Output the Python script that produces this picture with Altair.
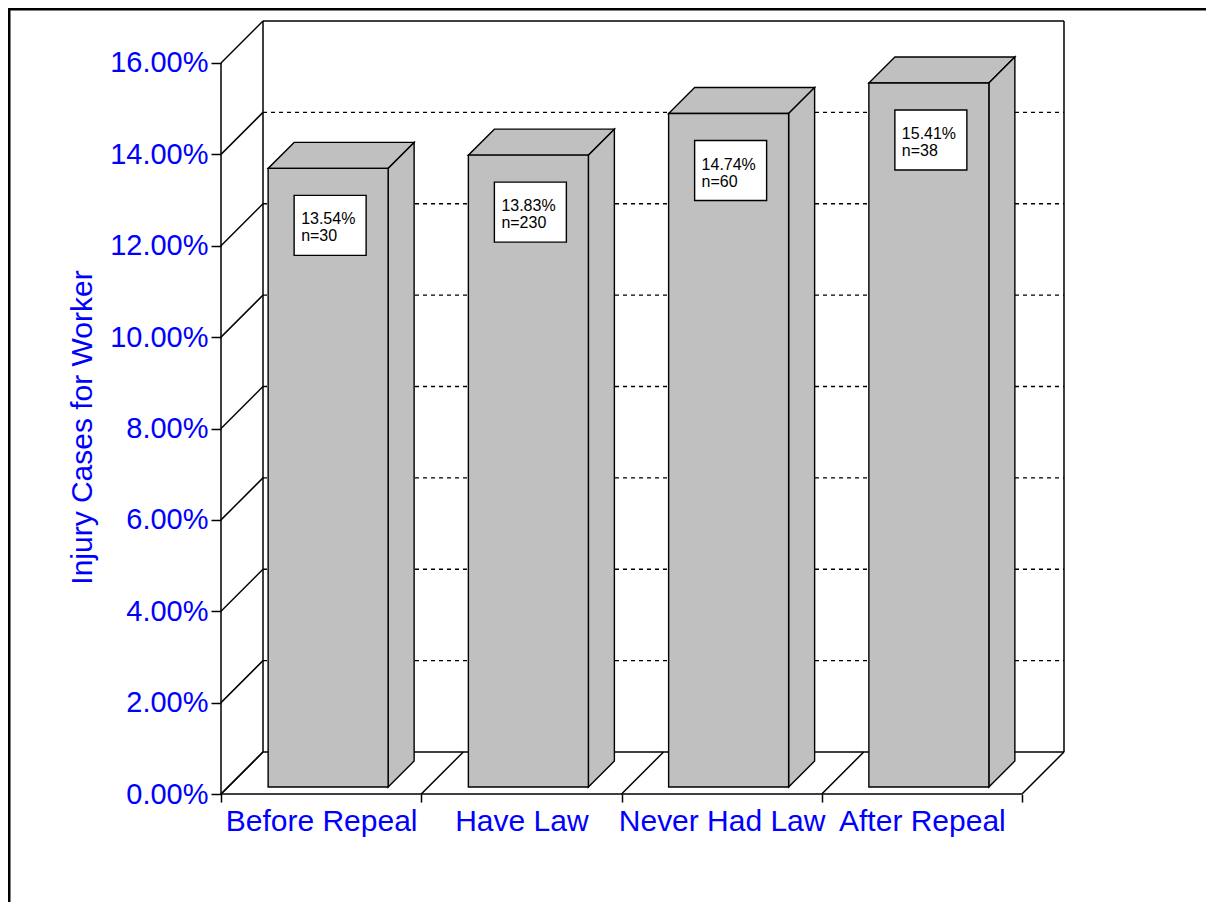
import json
import altair as alt
import pandas as pd

# ---------------- data ----------------
categories = ["Before Repeal", "Have Law", "Never Had Law", "After Repeal"]
values = [13.54, 13.83, 14.74, 15.41]          # percent
counts = [30, 230, 60, 38]
tick_values = [0, 2, 4, 6, 8, 10, 12, 14, 16]

# ---------------- geometry (pixels, style only) ----------------
N = len(categories)
YMAX = tick_values[-1]
PX_X = 200.25      # pixels per category band
PX_Y = 45.69       # pixels per percent
DEPTH = 42         # depth of the 3-D box
BAR_W = 120
BAR_Z0 = 7         # depth of bar front face
BAR_D = 26         # bar depth
BOX_DX, BOX_DY, BOX_W, BOX_H = 26, 27, 72, 60

FONT = "Liberation Sans"
BLUE = "#0000ff"
GRAY = "#c0c0c0"


def dx(p):
    return p / PX_X


def dy(p):
    return p / PX_Y


W = N * PX_X + DEPTH
H = YMAX * PX_Y + DEPTH
xs = alt.Scale(domain=[0, W / PX_X], nice=False, zero=False)
ys = alt.Scale(domain=[0, H / PX_Y], nice=False, zero=False)

label_arr = json.dumps(categories).replace('"', "'")
X_AX = alt.Axis(
    values=[i * 0.5 for i in range(2 * N + 1)],
    labelExpr=f"datum.value % 1 === 0 ? '' : {label_arr}[floor(datum.value)]",
    domain=False, grid=False, ticks=True, tickSize=8, tickColor="black",
    tickWidth=1.5,
    tickOpacity={"condition": {"test": "datum.value % 1 === 0", "value": 1}, "value": 0},
    labelColor=BLUE, labelFont=FONT, labelFontSize=30, labelPadding=4,
    labelOverlap=False, labelFlush=False, labelBound=False, labelLimit=0,
    title=None,
)
Y_AX = alt.Axis(
    values=tick_values,
    labelExpr="format(datum.value, '.2f') + '%'",
    domain=False, grid=False, ticks=True, tickSize=10, tickColor="black",
    tickWidth=1.5,
    labelColor=BLUE, labelFont=FONT, labelFontSize=29, labelPadding=3,
    labelOverlap=False, labelBound=False, labelLimit=0,
    title="Injury Cases for Worker", titleColor=BLUE, titleFont=FONT,
    titleFontSize=30, titleFontWeight="normal", titleAngle=-90,
    titleBaseline="bottom", titleAlign="center",
    titleX=-124, titleY=406,
)

# ---------------- frame segments ----------------
D_X, D_Y = dx(DEPTH), dy(DEPTH)
solid = []
solid.append((D_X, D_Y, D_X, YMAX + D_Y))              # back-left edge
solid.append((D_X, YMAX + D_Y, N + D_X, YMAX + D_Y))   # back-top edge
solid.append((N + D_X, D_Y, N + D_X, YMAX + D_Y))      # back-right edge
solid.append((D_X, D_Y, N + D_X, D_Y))                 # back floor edge
solid.append((0, 0, N, 0))                             # front floor edge
solid.append((0, 0, 0, YMAX))                          # front value axis
for v in tick_values:
    solid.append((0, v, D_X, v + D_Y))                 # wall diagonals
for i in range(N + 1):
    solid.append((i, 0, i + D_X, D_Y))                 # floor diagonals
solid_df = pd.DataFrame(solid, columns=["x", "y", "x2", "y2"])

dashed_df = pd.DataFrame(
    [(D_X, v + D_Y, N + D_X, v + D_Y) for v in tick_values if 0 < v < YMAX],
    columns=["x", "y", "x2", "y2"],
)

# ---------------- bars ----------------
front_rows, top_rows, side_rows, box_rows = [], [], [], []
for i, (c, v, n) in enumerate(zip(categories, values, counts)):
    center = i + 0.5 + dx(BAR_Z0)
    fl, fr = center - dx(BAR_W / 2), center + dx(BAR_W / 2)
    fb, ft = dy(BAR_Z0), v + dy(BAR_Z0)
    front_rows.append(dict(cat=c, x=fl, x2=fr, y=fb, y2=ft))
    top_rows.append(dict(cat=c, y=ft, x=fl, x2=fr))
    top_rows.append(dict(cat=c, y=ft + dy(BAR_D), x=fl + dx(BAR_D), x2=fr + dx(BAR_D)))
    side_rows.append(dict(cat=c, x=fr, y=fb, y2=ft))
    side_rows.append(dict(cat=c, x=fr + dx(BAR_D), y=fb + dy(BAR_D), y2=ft + dy(BAR_D)))
    bl = fl + dx(BOX_DX)
    bt = ft - dy(BOX_DY)
    box_rows.append(dict(cat=c, x=bl, x2=bl + dx(BOX_W), y=bt, y2=bt - dy(BOX_H),
                         label=f"{v:.2f}%\nn={n}"))

front_df = pd.DataFrame(front_rows)
top_df = pd.DataFrame(top_rows)
side_df = pd.DataFrame(side_rows)
box_df = pd.DataFrame(box_rows)


def X(field="x"):
    return alt.X(f"{field}:Q", scale=xs, axis=X_AX)


def Y(field="y"):
    return alt.Y(f"{field}:Q", scale=ys, axis=Y_AX)


dashed = alt.Chart(dashed_df).mark_rule(
    color="black", strokeWidth=1.4, strokeDash=[4, 4]
).encode(x=X(), x2="x2:Q", y=Y(), y2="y2:Q")

lines = alt.Chart(solid_df).mark_rule(color="black", strokeWidth=1.5).encode(
    x=X(), x2="x2:Q", y=Y(), y2="y2:Q"
)

top_face = alt.Chart(top_df).mark_area(
    orient="horizontal", fill=GRAY, stroke="black", strokeWidth=1.4, fillOpacity=1
).encode(y=Y(), x=X(), x2="x2:Q", detail="cat:N")

side_face = alt.Chart(side_df).mark_area(
    orient="vertical", fill=GRAY, stroke="black", strokeWidth=1.4, fillOpacity=1
).encode(x=X(), y=Y(), y2="y2:Q", detail="cat:N")

front_face = alt.Chart(front_df).mark_rect(
    fill=GRAY, stroke="black", strokeWidth=1.4
).encode(x=X(), x2="x2:Q", y=Y(), y2="y2:Q")

boxes = alt.Chart(box_df).mark_rect(
    fill="white", stroke="black", strokeWidth=1.4
).encode(x=X(), x2="x2:Q", y=Y(), y2="y2:Q")

box_text = alt.Chart(box_df).mark_text(
    align="left", baseline="top", dx=7, dy=16, font=FONT, fontSize=16,
    lineHeight=17, lineBreak="\n", color="black"
).encode(x=X(), y=Y("y"), text="label:N")

frame_top = alt.Chart(pd.DataFrame({"k": [0]})).mark_rule(
    color="black", strokeWidth=3
).encode(x=alt.value(-215), x2=alt.value(1000), y=alt.value(-12))
frame_left = alt.Chart(pd.DataFrame({"k": [0]})).mark_rule(
    color="black", strokeWidth=3
).encode(x=alt.value(-212), y=alt.value(-14), y2=alt.value(920))

chart = alt.layer(
    dashed, lines, top_face, side_face, front_face, boxes, box_text,
    frame_top, frame_left,
).properties(
    width=W, height=H,
    autosize=alt.AutoSizeParams(type="none"),
    padding={"left": 213, "top": 13, "right": 142, "bottom": 108},
).configure_view(strokeWidth=0)

chart.save("out.html", embed_options={"renderer": "svg", "actions": False})
